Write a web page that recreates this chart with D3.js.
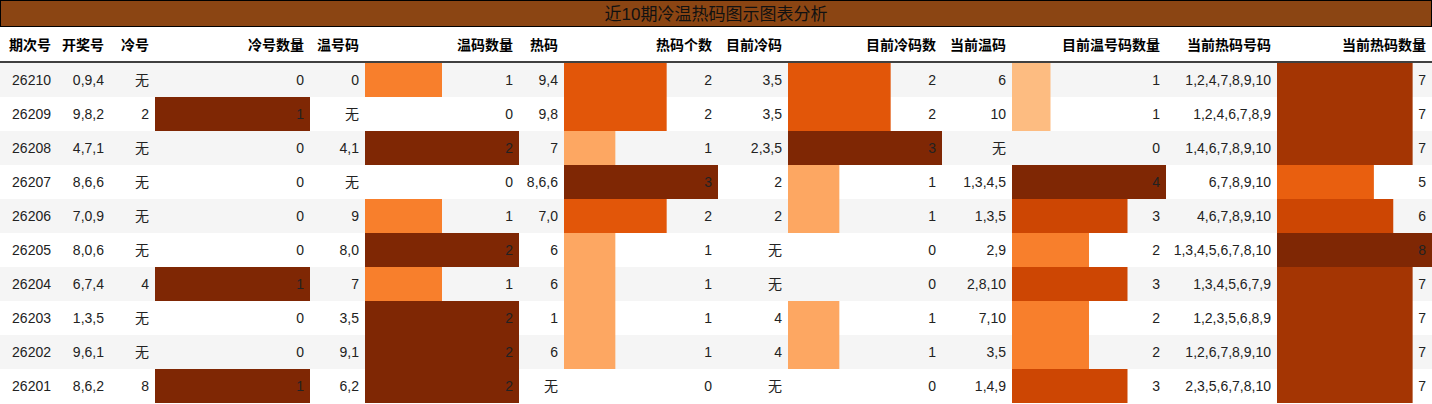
<!DOCTYPE html>
<html><head><meta charset="utf-8">
<script src="https://cdn.jsdelivr.net/npm/d3@7"></script>
<style>body{margin:0;background:#fff}text{font-family:"Liberation Sans","Noto Sans CJK SC",sans-serif;font-size:14px}</style>
</head><body><svg id="c" width="1432" height="404"></svg>
<script>
const title = "近10期冷温热码图示图表分析";
const issues = ["26210","26209","26208","26207","26206","26205","26204","26203","26202","26201"];
const draws = ["0,9,4","9,8,2","4,7,1","8,6,6","7,0,9","8,0,6","6,7,4","1,3,5","9,6,1","8,6,2"];
const coldNums = ["无","2","无","无","无","无","4","无","无","8"];
const coldCounts = [0,1,0,0,0,0,1,0,0,1];
const warmNums = ["0","无","4,1","无","9","8,0","7","3,5","9,1","6,2"];
const warmCounts = [1,0,2,0,1,2,1,2,2,2];
const hotNums = ["9,4","9,8","7","8,6,6","7,0","6","6","1","6","无"];
const hotCounts = [2,2,1,3,2,1,1,1,1,0];
const curCold = ["3,5","3,5","2,3,5","2","2","无","无","4","4","无"];
const curColdCounts = [2,2,3,1,1,0,0,1,1,0];
const curWarm = ["6","10","无","1,3,4,5","1,3,5","2,9","2,8,10","7,10","3,5","1,4,9"];
const curWarmCounts = [1,1,0,4,3,2,3,2,2,3];
const curHot = ["1,2,4,7,8,9,10","1,2,4,6,7,8,9","1,4,6,7,8,9,10","6,7,8,9,10","4,6,7,8,9,10","1,3,4,5,6,7,8,10","1,3,4,5,6,7,9","1,2,3,5,6,8,9","1,2,6,7,8,9,10","2,3,5,6,7,8,10"];
const curHotCounts = [7,7,7,5,6,8,7,7,7,7];

const cols = [
  {h:"期次号", w:57, d:issues},
  {h:"开奖号", w:53, d:draws},
  {h:"冷号", w:45, d:coldNums},
  {h:"冷号数量", w:155, d:coldCounts, bar:true},
  {h:"温号码", w:55, d:warmNums},
  {h:"温码数量", w:154, d:warmCounts, bar:true},
  {h:"热码", w:45, d:hotNums},
  {h:"热码个数", w:154, d:hotCounts, bar:true},
  {h:"目前冷码", w:70, d:curCold},
  {h:"目前冷码数", w:154, d:curColdCounts, bar:true},
  {h:"当前温码", w:70, d:curWarm},
  {h:"目前温号码数量", w:154, d:curWarmCounts, bar:true},
  {h:"当前热码号码", w:111, d:curHot},
  {h:"当前热码数量", w:155, d:curHotCounts, bar:true}
];
let x0 = 0; cols.forEach(c => { c.x = x0; x0 += c.w; });

const svg = d3.select("#c");
const rowH = 34, bodyTop = 63;
const y = d3.scaleBand().domain(issues).range([bodyTop, bodyTop + rowH * issues.length]);

svg.append("rect").attr("x",0.5).attr("y",0.5).attr("width",1431).attr("height",26)
  .attr("fill","#8B4513").attr("stroke","#000");
svg.append("text").attr("x",716).attr("y",20).attr("text-anchor","middle")
  .style("font-size","17px").attr("fill","#111").text(title);

svg.selectAll(".rowbg").data(issues).join("rect")
  .attr("x",0).attr("y",d=>y(d)).attr("width",1432).attr("height",y.bandwidth())
  .attr("fill",(d,i)=> i%2===0 ? "#f5f5f5" : "#fff");

svg.selectAll(".hd").data(cols).join("text")
  .attr("x",c=>c.x+c.w-6).attr("y",50).attr("text-anchor","end")
  .attr("font-weight","bold").text(c=>c.h);
svg.append("line").attr("x1",0).attr("x2",1432).attr("y1",62).attr("y2",62).attr("stroke","#000").attr("stroke-width",1.5);

cols.forEach(c => {
  const g = svg.append("g");
  if (c.bar) {
    const mx = d3.max(c.d);
    const xs = d3.scaleLinear().domain([0, mx]).range([0, c.w]);
    g.selectAll("rect").data(c.d).join("rect")
      .attr("x", c.x).attr("y", (d,i)=>y(issues[i]))
      .attr("width", d=>xs(d)).attr("height", y.bandwidth())
      .attr("fill", d=> d3.interpolateOranges(0.1 + 0.9*d/mx));
  }
  g.selectAll("text").data(c.d).join("text")
    .attr("x", c.x + c.w - 6).attr("y", (d,i)=>y(issues[i]) + 22)
    .attr("text-anchor","end").attr("fill","#222").text(d=>d);
});
</script></body></html>
